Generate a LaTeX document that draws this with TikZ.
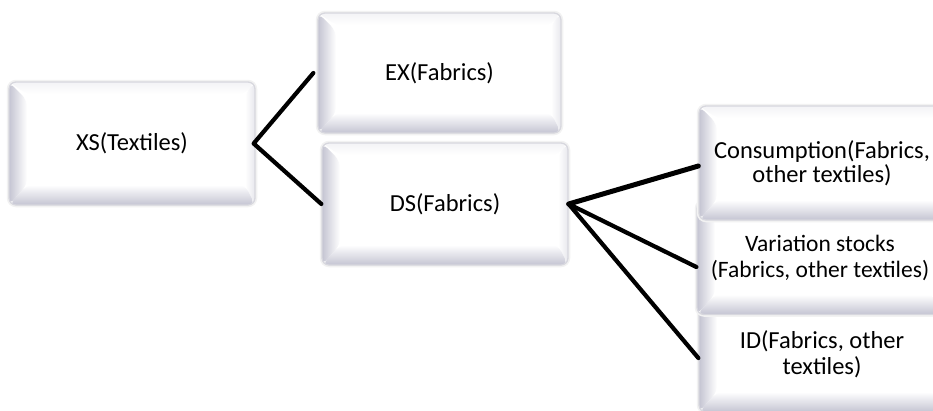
\documentclass[tikz,border=0pt]{standalone}
\usepackage{fontspec}
\setmainfont{Carlito}
\usetikzlibrary{calc}
\definecolor{bev}{RGB}{196,196,210}
\definecolor{edge}{RGB}{215,215,222}
\tikzset{
  bevbox/.style={rectangle, rounded corners=7pt, fill=white, draw=edge, line width=1.3pt,
    preaction={draw=black!5, line width=4.5pt},
    align=center, inner sep=0pt,
    font=\fontsize{24.5}{26.5}\selectfont,
    path picture={
      \path (path picture bounding box.north west) coordinate (A)
            (path picture bounding box.south east) coordinate (C);
      % top band
      \shade[top color=bev!20, bottom color=white]
        (A) -- (C|-A) -- ([shift={(-10pt,-12pt)}]C|-A) -- ([shift={(18pt,-12pt)}]A) -- cycle;
      % right band
      \shade[left color=white, right color=bev!40]
        (C|-A) -- (C) -- ([shift={(-10pt,20pt)}]C) -- ([shift={(-10pt,-12pt)}]C|-A) -- cycle;
      % bottom band
      \shade[top color=white, bottom color=bev]
        (A|-C) -- (C) -- ([shift={(-10pt,20pt)}]C) -- ([shift={(18pt,20pt)}]A|-C) -- cycle;
      % left band
      \shade[left color=bev, right color=white]
        (A) -- ([shift={(18pt,-18pt)}]A) -- ([shift={(18pt,20pt)}]A|-C) -- (A|-C) -- cycle;
    }},
  link/.style={draw=black, line width=4.2pt, line cap=round, line join=round}
}
\begin{document}
\begin{tikzpicture}[x=1pt,y=-1pt]
\useasboundingbox (0,0) rectangle (933,410);
\clip (0,0) rectangle (933,410);
\node[bevbox, minimum width=246pt, minimum height=123pt] (xs) at (132,143.5) {XS(Textiles)};
\node[bevbox, minimum width=243pt, minimum height=120pt] (ex) at (439.5,73) {EX(Fabrics)};
\node[bevbox, minimum width=246pt, minimum height=122pt] (ds) at (445,204) {DS(Fabrics)};
\node[bevbox, minimum width=246pt, minimum height=116pt] (id) at (822,354) {ID(Fabrics, other\\textiles)};
\node[bevbox, minimum width=246pt, minimum height=113pt, font=\fontsize{23.5}{26.5}\selectfont] (var) at (820,258) {Variation stocks\\(Fabrics, other textiles)};
\node[bevbox, minimum width=246pt, minimum height=114pt] (cons) at (822,163) {\raisebox{-3pt}{\shortstack{Consumption(Fabrics,\\[-1pt]other textiles)}}};
\path[link] ([xshift=-4pt]ex.west) -- ([xshift=-2pt]xs.east) -- (ds.west);
\draw[link, line width=5pt] (ds.east) -- ([yshift=-3pt]cons.west);
\draw[link] (ds.east) -- ([yshift=-9pt]var.west);
\draw[link] (ds.east) -- ([yshift=-4pt]id.west);
\end{tikzpicture}
\end{document}
